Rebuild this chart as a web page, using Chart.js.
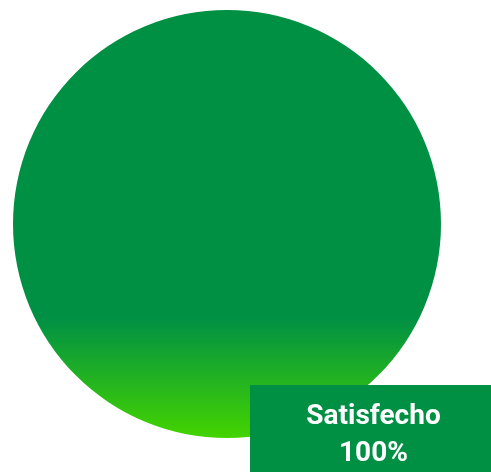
<!DOCTYPE html>
<html>
<head>
<meta charset="utf-8">
<script src="https://cdn.jsdelivr.net/npm/chart.js@4/dist/chart.umd.min.js"></script>
<style>
html,body{margin:0;padding:0;background:#fff;}
#wrap{width:491px;height:472px;position:relative;}
</style>
</head>
<body>
<div id="wrap"><canvas id="c" width="491" height="472"></canvas></div>
<script>
const categories = ["Satisfecho"];
const values = [100];
const percentLabels = ["100%"];

const DARK = "rgb(0,144,68)";
const BRIGHT = "rgb(68,212,0)";

const labelBox = {
  id: 'labelBox',
  afterDraw(chart) {
    const ctx = chart.ctx;
    const w = chart.width, h = chart.height;
    const bx = 250, by = 385, bw = w - bx, bh = h - by;
    ctx.save();
    ctx.fillStyle = DARK;
    ctx.fillRect(bx, by, bw, bh);
    ctx.fillStyle = '#fff';
    ctx.textAlign = 'center';
    ctx.textBaseline = 'alphabetic';
    ctx.font = 'bold 28px Roboto, "Noto Sans", sans-serif';
    const cx = bx + bw / 2 + 3;
    ctx.fillText(categories[0], cx, 424);
    ctx.fillText(percentLabels[0], cx, 461);
    ctx.restore();
  }
};

new Chart(document.getElementById('c'), {
  type: 'pie',
  data: {
    labels: categories,
    datasets: [{
      data: values,
      borderWidth: 0,
      backgroundColor: (context) => {
        const chart = context.chart;
        const area = chart.chartArea;
        if (!area) return DARK;
        const g = chart.ctx.createLinearGradient(0, area.top, 0, area.bottom);
        g.addColorStop(0, DARK);
        g.addColorStop(0.72, DARK);
        g.addColorStop(1, BRIGHT);
        return g;
      }
    }]
  },
  options: {
    responsive: false,
    animation: false,
    layout: { padding: { top: 10, bottom: 34, left: 13, right: 50 } },
    plugins: {
      legend: { display: false },
      tooltip: { enabled: false }
    }
  },
  plugins: [labelBox]
});
</script>
</body>
</html>
